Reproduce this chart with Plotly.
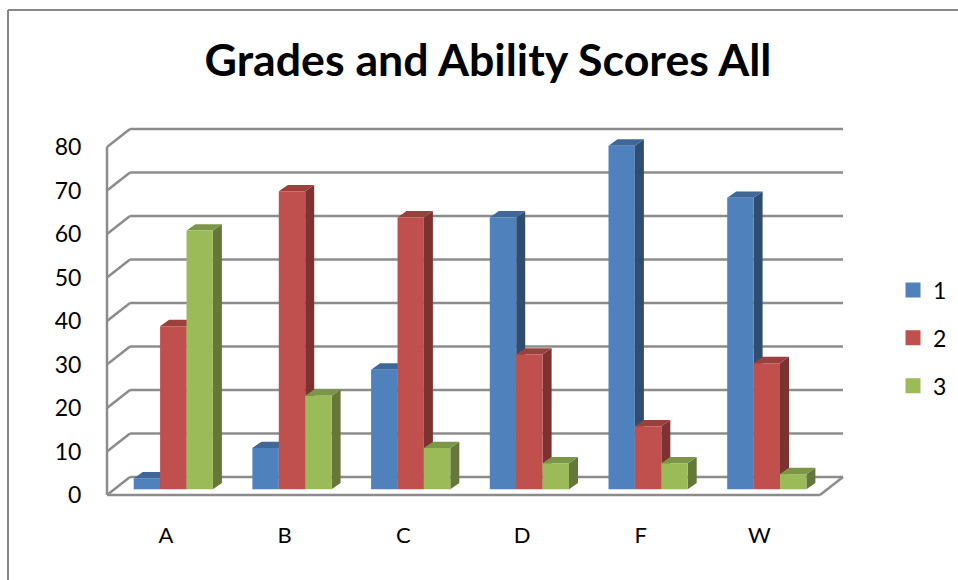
import plotly.graph_objects as go

W, H = 958, 580

categories = ['A', 'B', 'C', 'D', 'F', 'W']
series_names = ['1', '2', '3']
series_1 = [2.5, 9.5, 27.5, 62.5, 79, 67]
series_2 = [37.5, 68.5, 62.5, 31, 14.5, 29]
series_3 = [59.5, 21.5, 9.5, 6, 6, 3.5]
y_ticks = [0, 10, 20, 30, 40, 50, 60, 70, 80]

front_colors = ['#4f81bd', '#c0504d', '#9bbb59']
top_colors = ['#3f6797', '#9a403d', '#7c9647']
side_colors = ['#2f4d71', '#7c3230', '#64783a']
grid_color = '#8c8c8c'

# plot area in pixels, the rest is worked out from it
L, R, T, B = 100, 860, 115, 505
PX_CAT = 118.7   # px per category
PX_VAL = 4.35    # px per value unit
X0 = 173.3       # centre of first group
Y0 = 489.3       # base of the bars
BAR_W = 26.4 / PX_CAT
DEPTH_X, DEPTH_Y = 9 / PX_CAT, 6.3 / PX_VAL


def cat_x(px):
    return (px - X0) / PX_CAT


def val_y(py):
    return (Y0 - py) / PX_VAL


shapes = []


def line(x0, y0, x1, y1):
    shapes.append(dict(type='line', xref='x', yref='y', layer='below', x0=x0, y0=y0, x1=x1, y1=y1,
                       line=dict(color=grid_color, width=2.5)))


# back wall and left wall gridlines
front_off = val_y(495)
back_off = val_y(477)
for v in y_ticks:
    line(cat_x(130), v + back_off, cat_x(843), v + back_off)
    line(cat_x(107), v + front_off, cat_x(130), v + back_off)
line(cat_x(107), front_off, cat_x(107), y_ticks[-1] + front_off)
line(cat_x(107), front_off, cat_x(820), front_off)
line(cat_x(820), front_off, cat_x(843), back_off)


def face(points, color):
    path = 'M ' + ' L '.join(f'{x:.4f} {y:.4f}' for x, y in points) + ' Z'
    shapes.append(dict(type='path', xref='x', yref='y', layer='below', path=path,
                       fillcolor=color, line=dict(width=0)))


# top and side faces come from the same values as the bars
all_series = [series_1, series_2, series_3]
for i in range(len(categories)):
    for s, values in enumerate(all_series):
        v = values[i]
        x_left = i + (s - 1.5) * BAR_W
        x_right = x_left + BAR_W
        face([(x_right, 0), (x_right + DEPTH_X, DEPTH_Y), (x_right + DEPTH_X, v + DEPTH_Y), (x_right, v)],
             side_colors[s])
        face([(x_left, v), (x_left + DEPTH_X, v + DEPTH_Y), (x_right + DEPTH_X, v + DEPTH_Y), (x_right, v)],
             top_colors[s])

# chart frame, cut off by the page on the right and at the bottom
shapes.append(dict(type='line', xref='paper', yref='paper', layer='below',
                   x0=(8 - L) / (R - L), x1=(W + 5 - L) / (R - L),
                   y0=(B - 10) / (B - T), y1=(B - 10) / (B - T),
                   line=dict(color='#868686', width=2)))
shapes.append(dict(type='line', xref='paper', yref='paper', layer='below',
                   x0=(8 - L) / (R - L), x1=(8 - L) / (R - L),
                   y0=(B - 10) / (B - T), y1=(B - H - 5) / (B - T),
                   line=dict(color='#868686', width=2)))

fig = go.Figure()
for s, values in enumerate(all_series):
    fig.add_trace(go.Bar(
        x=list(range(len(categories))),
        y=values,
        name=series_names[s],
        showlegend=False,
        marker=dict(color=front_colors[s], line=dict(width=0)),
    ))
# bar legend swatches are too small, so the legend gets square markers
for s, name in enumerate(series_names):
    fig.add_trace(go.Scatter(
        x=[None],
        y=[None],
        mode='markers',
        name=name,
        legendgroup=name,
        marker=dict(symbol='square', size=15, color=front_colors[s]),
    ))

fig.update_layout(
    width=W,
    height=H,
    autosize=False,
    margin=dict(l=L, r=W - R, t=T, b=H - B, pad=0),
    paper_bgcolor='white',
    plot_bgcolor='rgba(0,0,0,0)',
    font=dict(family='Lato', color='black'),
    title=dict(text='<b>Grades and Ability Scores All</b>', font=dict(family='Lato', size=44.7, color='black'),
               x=488 / W, xanchor='center', y=1 - 60 / H, yanchor='middle'),
    barmode='group',
    bargap=1 - 3 * BAR_W,
    bargroupgap=0,
    shapes=shapes,
    xaxis=dict(range=[cat_x(L), cat_x(R)], tickmode='array',
               tickvals=[i + (166 - X0) / PX_CAT for i in range(len(categories))], ticktext=categories,
               showgrid=False, zeroline=False, showline=False, ticks='outside', ticklen=11,
               tickcolor='rgba(0,0,0,0)', tickfont=dict(size=22, family='Lato')),
    yaxis=dict(range=[val_y(B), val_y(T)], tickmode='array',
               tickvals=[v + front_off for v in y_ticks], ticktext=[str(v) for v in y_ticks],
               showgrid=False, zeroline=False, showline=False, ticks='outside', ticklen=13,
               tickcolor='rgba(0,0,0,0)', tickfont=dict(size=23, family='Lato')),
    # container refs so the legend does not push the right margin in
    legend=dict(xref='container', yref='container', x=893 / W, xanchor='left', y=1 - 338 / H, yanchor='middle',
                traceorder='grouped', tracegroupgap=15, font=dict(size=23, family='Lato'),
                bgcolor='rgba(0,0,0,0)', itemwidth=30),
)

# the page has a default 8px body margin that would push the whole chart down and right
fig.write_html("out.html", config=dict(displayModeBar=False), post_script="document.body.style.margin='0';")
